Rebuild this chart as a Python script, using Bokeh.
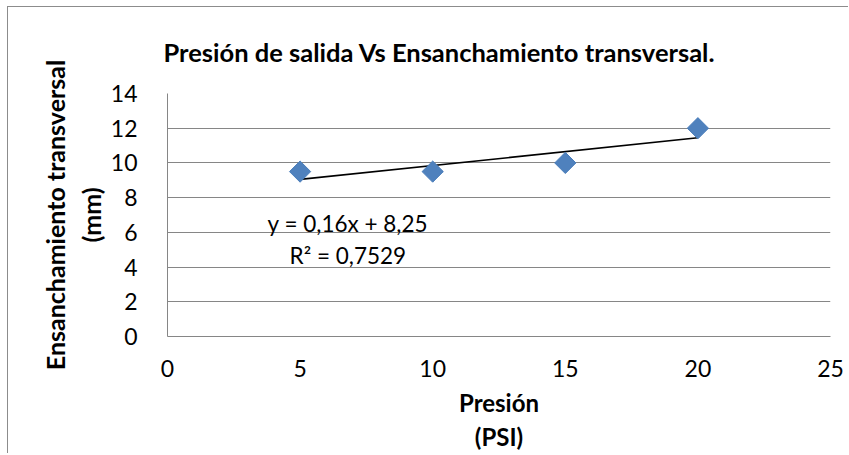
import numpy as np
from bokeh.plotting import figure
from bokeh.models import Range1d, FixedTicker, Label
from bokeh.embed import file_html
from bokeh.resources import INLINE

# Data
presion = [5, 10, 15, 20]
ensanchamiento = [9.5, 9.5, 10, 12]
x_ticks = [0, 5, 10, 15, 20, 25]
y_ticks = [0, 2, 4, 6, 8, 10, 12, 14]
slope = 0.16
intercept = 8.25
eq_text = "y = 0,16x + 8,25"
r2_text = "R² = 0,7529"
title_text = "Presión de salida Vs Ensanchamiento transversal."
x_label = "Presión\n(PSI)"
y_label = "Ensanchamiento transversal\n(mm)"

FONT = "Lato"
GRID = "#868686"

p = figure(width=841, height=447, output_backend="svg", toolbar_location=None,
           x_range=Range1d(0, 25), y_range=Range1d(0, 14),
           min_border_left=159, min_border_top=85, min_border_right=19, min_border_bottom=110)
p.outline_line_color = None
p.background_fill_color = "white"
p.border_fill_color = "white"
p.styles = {"margin-left": "7px", "margin-top": "6px",
            "border-left": "1px solid #8c8c8c", "border-top": "1px solid #8c8c8c"}

p.xgrid.visible = False
p.ygrid.grid_line_color = GRID
p.ygrid.grid_line_width = 1
p.yaxis.ticker = FixedTicker(ticks=y_ticks)
p.xaxis.ticker = FixedTicker(ticks=x_ticks)

for ax in (p.xaxis[0], p.yaxis[0]):
    ax.major_tick_line_color = None
    ax.minor_tick_line_color = None
    ax.axis_line_color = GRID
    ax.major_label_text_font = FONT
    ax.major_label_text_font_size = "23px"
    ax.major_label_text_color = "black"
    ax.axis_label_text_font = FONT
    ax.axis_label_text_font_style = "bold"
    ax.axis_label_text_font_size = "24px"
    ax.axis_label_text_color = "black"

p.yaxis.axis_label_text_font_size = "25px"
p.yaxis.major_label_standoff = 24
p.xaxis.major_label_standoff = 17
p.xaxis.axis_label = x_label
p.yaxis.axis_label = y_label
p.xaxis.axis_label_standoff = 8
p.yaxis.axis_label_standoff = 2

p.title.text = title_text
p.title.text_font = FONT
p.title.text_font_size = "25.5px"
p.title.text_font_style = "bold"
p.title.text_color = "black"
p.title.align = "left"
p.title.offset = -4
p.title.standoff = 54

# Trendline
xt = np.array([min(presion), max(presion)], dtype=float)
yt = slope * xt + intercept
p.line(xt, yt, line_color="black", line_width=1.6)

# Points
p.scatter(presion, ensanchamiento, marker="square", angle=np.pi / 4, size=15,
          fill_color="#4F81BD", line_color="#4A7EBB", line_width=1)

p.add_layout(Label(x=6.8, y=6.5, text=eq_text, text_align="center", text_baseline="middle",
                   text_font=FONT, text_font_size="22.5px", text_color="black"))
p.add_layout(Label(x=6.8, y=4.65, text=r2_text, text_align="center", text_baseline="middle",
                   text_font=FONT, text_font_size="22.5px", text_color="black"))

open("out.html", "w").write(file_html(p, INLINE))
